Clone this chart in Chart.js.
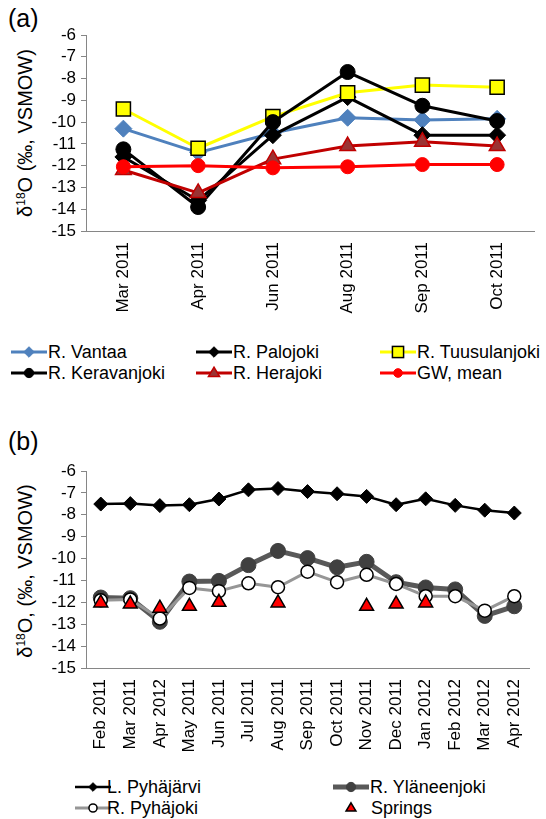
<!DOCTYPE html>
<html>
<head>
<meta charset="utf-8">
<script src="https://cdn.jsdelivr.net/npm/chart.js@4/dist/chart.umd.min.js"></script>
<style>
  html, body { margin:0; padding:0; background:#fff; }
  body { width:546px; height:819px; position:relative; overflow:hidden; font-family:"Liberation Sans", Arial, sans-serif; color:#000; }
  .abs { position:absolute; }
  .panel { font-size:25px; line-height:1; }
  .ytitle { font-size:20px; white-space:nowrap; transform:translate(-50%,-50%) rotate(-90deg); line-height:1; }
  .ytitle sup { font-size:12px; vertical-align:7px; }
  .leg { font-size:18px; line-height:1; white-space:nowrap; }
  .leg svg { position:absolute; left:0; top:0; }
</style>
</head>
<body>
<div class="abs panel" style="left:8px;top:6px;">(a)</div>
<div class="abs panel" style="left:8px;top:429px;">(b)</div>
<div class="abs ytitle" style="left:25px;top:133px;">δ<sup>18</sup>O (‰, VSMOW)</div>
<div class="abs ytitle" style="left:25px;top:571px;">δ<sup>18</sup>O, (‰, VSMOW)</div>

<canvas id="ca" class="abs" style="left:0;top:0;"></canvas>
<canvas id="cb" class="abs" style="left:0;top:400px;"></canvas>
<div id="legA"></div>
<div id="legB"></div>

<script>
// ---- Panel (a) data ----
const catsA = ['Mar 2011','Apr 2011','Jun 2011','Aug 2011','Sep 2011','Oct 2011'];
const vantaa       = [-10.3, -11.4, -10.5, -9.8, -9.9, -9.85];
const palojoki     = [-11.6, -13.6, -10.6, -8.85, -10.6, -10.6];
const tuusulanjoki = [-9.4, -11.2, -9.75, -8.65, -8.3, -8.4];
const keravanjoki  = [-11.25, -13.9, -10.0, -7.7, -9.25, -9.95];
const herajoki     = [-12.2, -13.25, -11.7, -11.1, -10.9, -11.1];
const gwMean       = [-12.05, -12.0, -12.1, -12.05, -11.95, -11.95];

// ---- Panel (b) data ----
const catsB = ['Feb 2011','Mar 2011','Apr 2012','May 2011','Jun 2011','Jul 2011','Aug 2011','Sep 2011','Oct 2011','Nov 2011','Dec 2011','Jan 2012','Feb 2012','Mar 2012','Apr 2012'];
const pyhajarvi   = [-7.51, -7.49, -7.58, -7.54, -7.28, -6.86, -6.8, -6.94, -7.04, -7.16, -7.54, -7.27, -7.57, -7.79, -7.92];
const ylaneenjoki = [-11.78, -11.81, -12.89, -11.05, -11.02, -10.3, -9.65, -9.98, -10.4, -10.15, -11.08, -11.32, -11.41, -12.62, -12.18];
const pyhajoki    = [-11.91, -11.87, -12.74, -11.34, -11.49, -11.13, -11.31, -10.6, -11.08, -10.74, -11.16, -11.72, -11.72, -12.38, -11.72];
const springs     = [-12.03, -12.08, -12.27, -12.18, -12.0, null, -12.03, null, null, -12.18, -12.08, -12.03, null, null, null];

const yTicks = [-6,-7,-8,-9,-10,-11,-12,-13,-14,-15];

const FONT = '"Liberation Sans", Arial, sans-serif';
const AXIS = '#868686';

function setupCanvas(id, h) {
  const c = document.getElementById(id);
  c.width = 546; c.height = h;
  c.style.width = '546px'; c.style.height = h + 'px';
  return c;
}

function makeOptions(padTop, xHeight) {
  return {
    responsive: false,
    animation: false,
    devicePixelRatio: 1,
    layout: { padding: { top: padTop, left: 0, right: 6, bottom: 0 } },
    plugins: { legend: { display: false }, tooltip: { enabled: false } },
    scales: {
      x: {
        type: 'category',
        offset: true,
        grid: { display: false, drawTicks: false },
        border: { display: true, color: AXIS, width: 1 },
        ticks: { autoSkip: false, minRotation: 90, maxRotation: 90, padding: 11, color: '#000', font: { family: FONT, size: 17 } },
        afterFit: s => { s.height = xHeight; }
      },
      y: {
        min: -15, max: -6,
        afterBuildTicks: s => { s.ticks = yTicks.map(v => ({ value: v })); },
        grid: { display: true, drawOnChartArea: false, drawTicks: true, tickLength: 5, color: AXIS },
        border: { display: true, color: AXIS, width: 1 },
        ticks: { autoSkip: false, padding: 5, color: '#000', font: { family: FONT, size: 17 }, callback: v => String(v) },
        afterFit: s => { s.width = 86; }
      }
    }
  };
}

function ds(label, data, o) {
  return Object.assign({ label, data, fill: false, tension: 0, borderJoinStyle: 'round' }, o);
}

const dsA = [
  ds('R. Vantaa', vantaa, { borderColor: '#4F81BD', borderWidth: 3, pointStyle: 'rectRot', pointRadius: 8.5, pointBackgroundColor: '#4F81BD', pointBorderColor: '#4F81BD', pointBorderWidth: 1 }),
  ds('R. Palojoki', palojoki, { borderColor: '#000', borderWidth: 3, pointStyle: 'rectRot', pointRadius: 8.5, pointBackgroundColor: '#000', pointBorderColor: '#000', pointBorderWidth: 1 }),
  ds('R. Tuusulanjoki', tuusulanjoki, { borderColor: '#FFFF00', borderWidth: 3, pointStyle: 'rect', pointRadius: 10, pointBackgroundColor: '#FFFF00', pointBorderColor: '#000', pointBorderWidth: 1.5 }),
  ds('R. Keravanjoki', keravanjoki, { borderColor: '#000', borderWidth: 3, pointStyle: 'circle', pointRadius: 7.5, pointBackgroundColor: '#000', pointBorderColor: '#000', pointBorderWidth: 1 }),
  ds('R. Herajoki', herajoki, { borderColor: '#C00000', borderWidth: 3, pointStyle: 'triangle', pointRadius: 9, pointBackgroundColor: '#9B3333', pointBorderColor: '#C00000', pointBorderWidth: 1.5 }),
  ds('GW, mean', gwMean, { borderColor: '#FF0000', borderWidth: 3, pointStyle: 'circle', pointRadius: 7, pointBackgroundColor: '#FF0000', pointBorderColor: '#FF0000', pointBorderWidth: 1 })
];
dsA.forEach((d, i) => d.order = dsA.length - i);

const dsB = [
  ds('L. Pyhäjärvi', pyhajarvi, { borderColor: '#000', borderWidth: 2.5, pointStyle: 'rectRot', pointRadius: 7, pointBackgroundColor: '#000', pointBorderColor: '#000', pointBorderWidth: 1 }),
  ds('R. Yläneenjoki', ylaneenjoki, { borderColor: '#595959', borderWidth: 5, pointStyle: 'circle', pointRadius: 7.5, pointBackgroundColor: '#404040', pointBorderColor: '#404040', pointBorderWidth: 1 }),
  ds('R. Pyhäjoki', pyhajoki, { borderColor: '#969696', borderWidth: 3, pointStyle: 'circle', pointRadius: 6.5, pointBackgroundColor: '#FFFFFF', pointBorderColor: '#000', pointBorderWidth: 1.5 }),
  ds('Springs', springs, { showLine: false, borderColor: '#000', pointStyle: 'triangle', pointRadius: 8, pointBackgroundColor: '#FF0000', pointBorderColor: '#000', pointBorderWidth: 1.5 })
];
dsB.forEach((d, i) => d.order = dsB.length - i);

new Chart(setupCanvas('ca', 330), { type: 'line', data: { labels: catsA, datasets: dsA }, options: makeOptions(35, 99) });
new Chart(setupCanvas('cb', 370), { type: 'line', data: { labels: catsB, datasets: dsB }, options: makeOptions(71, 102) });

// ---- HTML legends ----
function markerSVG(d) {
  const w = 36, h = 20, cy = 10, cx = 18;
  let s = `<svg width="${w}" height="${h}" viewBox="0 0 ${w} ${h}">`;
  if (d.showLine !== false) s += `<line x1="0" y1="${cy}" x2="${w}" y2="${cy}" stroke="${d.borderColor}" stroke-width="${d.borderWidth}"/>`;
  const r = d.pointRadius * 0.62;
  const f = d.pointBackgroundColor, st = d.pointBorderColor, sw = d.pointBorderWidth;
  if (d.pointStyle === 'circle') s += `<circle cx="${cx}" cy="${cy}" r="${r}" fill="${f}" stroke="${st}" stroke-width="${sw}"/>`;
  else if (d.pointStyle === 'rectRot') s += `<polygon points="${cx},${cy-r} ${cx+r},${cy} ${cx},${cy+r} ${cx-r},${cy}" fill="${f}" stroke="${st}" stroke-width="${sw}"/>`;
  else if (d.pointStyle === 'rect') { const a = r * 0.9; s += `<rect x="${cx-a}" y="${cy-a}" width="${2*a}" height="${2*a}" fill="${f}" stroke="${st}" stroke-width="${sw}"/>`; }
  else if (d.pointStyle === 'triangle') { const a = r * 1.05; s += `<polygon points="${cx},${cy-a} ${cx+a*0.95},${cy+a*0.6} ${cx-a*0.95},${cy+a*0.6}" fill="${f}" stroke="${st}" stroke-width="${sw}"/>`; }
  return s + '</svg>';
}
function buildLegend(id, items) {
  const el = document.getElementById(id);
  items.forEach(([d, x, y, tx]) => {
    const div = document.createElement('div');
    div.className = 'abs leg';
    div.style.left = x + 'px'; div.style.top = (y - 10) + 'px'; div.style.height = '20px'; div.style.width = '200px';
    div.innerHTML = markerSVG(d) + `<span class="abs" style="left:${tx}px;top:1px;">${d.label}</span>`;
    el.appendChild(div);
  });
}
buildLegend('legA', [
  [dsA[0], 11, 352, 37], [dsA[1], 196, 352, 37], [dsA[2], 380, 352, 37],
  [dsA[3], 11, 373, 37], [dsA[4], 196, 373, 37], [dsA[5], 380, 373, 37]
]);
buildLegend('legB', [
  [dsB[0], 75, 787, 32], [dsB[1], 333, 787, 37],
  [dsB[2], 75, 808, 32], [dsB[3], 333, 808, 38]
]);
</script>
</body>
</html>
